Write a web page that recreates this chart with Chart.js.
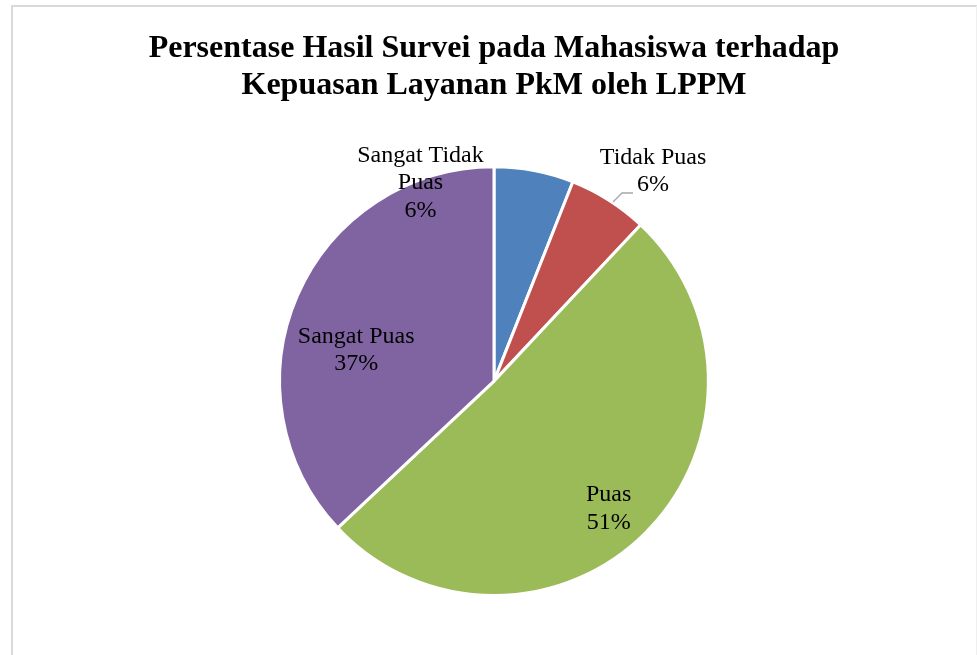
<!DOCTYPE html>
<html><head><meta charset="utf-8">
<script src="https://cdn.jsdelivr.net/npm/chart.js@4"></script>
<style>
html,body{margin:0;padding:0;background:#fff;}
#wrap{position:relative;width:977px;height:655px;}
</style></head>
<body><div id="wrap"><canvas id="c" width="977" height="655"></canvas></div>
<script>
const categories = ["Sangat Tidak Puas", "Tidak Puas", "Puas", "Sangat Puas"];
const labelLines = [["Sangat Tidak", "Puas"], ["Tidak Puas"], ["Puas"], ["Sangat Puas"]];
const percentages = [6, 6, 51, 37];
const titleLines = ["Persentase Hasil Survei pada Mahasiswa terhadap", "Kepuasan Layanan PkM oleh LPPM"];
const colors = ["#4F81BD", "#C0504D", "#9BBB59", "#8064A2"];
// label anchor offsets relative to pie centre, as fraction of radius (style only)
const labelPos = [[-0.343, -0.925], [0.742, -0.98], [0.535, 0.595], [-0.643, -0.145]];

const frame = {
  id: 'frame',
  beforeDraw(chart) {
    const c = chart.ctx;
    c.save();
    c.fillStyle = '#fff';
    c.fillRect(0, 0, chart.width, chart.height);
    c.strokeStyle = '#d9d9d9';
    c.lineWidth = 2;
    c.beginPath();
    c.moveTo(12, 660);
    c.lineTo(12, 6);
    c.lineTo(977, 6);
    c.stroke();
    c.strokeStyle = '#efefef';
    c.lineWidth = 1;
    c.beginPath();
    c.moveTo(976.5, 6);
    c.lineTo(976.5, 660);
    c.stroke();
    c.restore();
  }
};

const labelsPlugin = {
  id: 'sliceLabels',
  afterDatasetsDraw(chart) {
    const c = chart.ctx;
    const meta = chart.getDatasetMeta(0);
    const arc0 = meta.data[0];
    const cx = arc0.x, cy = arc0.y, R = arc0.outerRadius;
    c.save();
    c.font = '24px "Liberation Serif", "Times New Roman", serif';
    c.fillStyle = '#000';
    c.textAlign = 'center';
    c.textBaseline = 'middle';
    const lh = 27.5;
    meta.data.forEach((arc, i) => {
      const lines = labelLines[i].concat([percentages[i] + '%']);
      const ax = cx + labelPos[i][0] * R;
      const ay = cy + labelPos[i][1] * R;
      const top = ay - (lines.length - 1) * lh / 2;
      lines.forEach((t, k) => c.fillText(t, ax, top + k * lh));
      if (i === 1) {
        c.strokeStyle = '#a6a6a6';
        c.lineWidth = 1.3;
        c.beginPath();
        c.moveTo(613, 202);
        c.lineTo(622, 193);
        c.lineTo(633, 193);
        c.stroke();
      }
    });
    c.restore();
  }
};

new Chart(document.getElementById('c'), {
  type: 'pie',
  data: {
    labels: categories,
    datasets: [{
      data: percentages,
      backgroundColor: colors,
      borderColor: '#ffffff',
      borderWidth: 3
    }]
  },
  options: {
    responsive: false,
    animation: false,
    layout: { padding: { left: 11, right: 0, top: 0, bottom: 58 } },
    plugins: {
      legend: { display: false },
      tooltip: { enabled: false },
      title: {
        display: true,
        text: titleLines,
        color: '#000',
        font: { family: '"Liberation Serif", "Times New Roman", serif', size: 32, weight: 'bold', lineHeight: 1.16 },
        padding: { top: 30, bottom: 61 }
      }
    }
  },
  plugins: [frame, labelsPlugin]
});
</script></body></html>
